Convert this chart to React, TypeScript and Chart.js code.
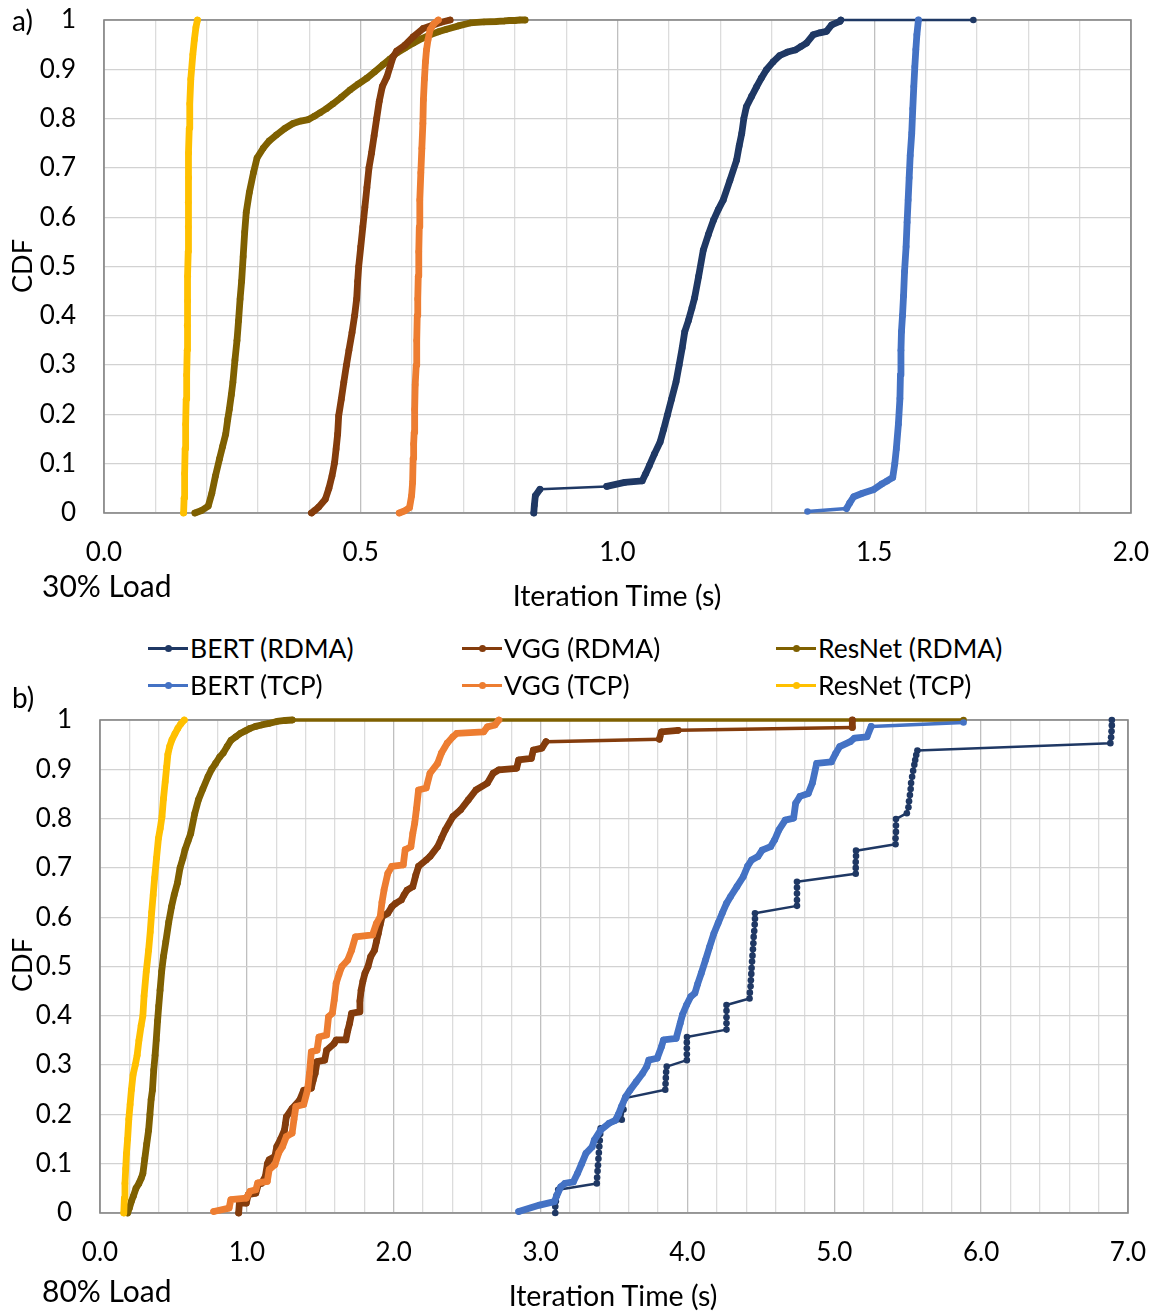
import React, { useEffect, useRef } from "react";
import { Chart, registerables } from "chart.js";

Chart.register(...registerables);

// ---------------- labels ----------------
const SERIES_NAMES = ["BERT (RDMA)", "VGG (RDMA)", "ResNet (RDMA)", "BERT (TCP)", "VGG (TCP)", "ResNet (TCP)"];
const X_TICKS_30 = ["0.0", "0.5", "1.0", "1.5", "2.0"];
const X_TICKS_80 = ["0.0", "1.0", "2.0", "3.0", "4.0", "5.0", "6.0", "7.0"];
const Y_TICKS = ["0", "0.1", "0.2", "0.3", "0.4", "0.5", "0.6", "0.7", "0.8", "0.9", "1"];

// ---------------- a) 30% load ----------------
const bertRdma30X = [0.837, 0.838, 0.840, 0.849, 0.979, 1.014, 1.048, 1.055, 1.062, 1.072, 1.083, 1.090, 1.097, 1.105, 1.114, 1.120, 1.126, 1.131, 1.138, 1.145, 1.150, 1.158, 1.167, 1.177, 1.187, 1.196, 1.206, 1.219, 1.232, 1.237, 1.242, 1.246, 1.251, 1.261, 1.271, 1.280, 1.290, 1.303, 1.316, 1.331, 1.346, 1.357, 1.368, 1.381, 1.394, 1.407, 1.417, 1.433, 1.435, 1.693];
const bertRdma30Y = [0, 0.015, 0.035, 0.048, 0.054, 0.062, 0.065, 0.080, 0.096, 0.120, 0.144, 0.170, 0.198, 0.230, 0.266, 0.300, 0.335, 0.368, 0.390, 0.416, 0.436, 0.480, 0.533, 0.565, 0.594, 0.615, 0.635, 0.675, 0.716, 0.745, 0.770, 0.800, 0.824, 0.845, 0.865, 0.882, 0.899, 0.915, 0.928, 0.935, 0.939, 0.946, 0.953, 0.970, 0.974, 0.977, 0.990, 0.997, 1.0, 1.0];

const vggRdma30X = [0.404, 0.410, 0.418, 0.431, 0.438, 0.444, 0.449, 0.452, 0.455, 0.457, 0.462, 0.467, 0.472, 0.477, 0.483, 0.488, 0.492, 0.494, 0.496, 0.500, 0.504, 0.508, 0.512, 0.516, 0.521, 0.526, 0.531, 0.536, 0.542, 0.551, 0.557, 0.563, 0.570, 0.586, 0.602, 0.622, 0.641, 0.655, 0.674];
const vggRdma30Y = [0, 0.005, 0.012, 0.028, 0.050, 0.075, 0.102, 0.130, 0.160, 0.197, 0.230, 0.265, 0.299, 0.330, 0.366, 0.400, 0.434, 0.470, 0.500, 0.540, 0.580, 0.620, 0.660, 0.700, 0.730, 0.765, 0.800, 0.835, 0.865, 0.885, 0.905, 0.925, 0.937, 0.949, 0.966, 0.983, 0.990, 0.995, 1.0];

const resnetRdma30X = [0.177, 0.190, 0.203, 0.210, 0.217, 0.225, 0.231, 0.237, 0.241, 0.244, 0.248, 0.251, 0.255, 0.259, 0.262, 0.265, 0.268, 0.271, 0.274, 0.277, 0.283, 0.291, 0.298, 0.310, 0.322, 0.336, 0.352, 0.368, 0.383, 0.398, 0.410, 0.421, 0.433, 0.446, 0.462, 0.479, 0.495, 0.512, 0.527, 0.543, 0.557, 0.570, 0.586, 0.602, 0.618, 0.635, 0.651, 0.667, 0.690, 0.713, 0.740, 0.765, 0.780, 0.790, 0.800, 0.810, 0.820];
const resnetRdma30Y = [0, 0.005, 0.014, 0.040, 0.075, 0.110, 0.135, 0.160, 0.190, 0.210, 0.240, 0.265, 0.310, 0.350, 0.390, 0.434, 0.470, 0.520, 0.570, 0.610, 0.650, 0.690, 0.720, 0.740, 0.755, 0.767, 0.780, 0.790, 0.795, 0.798, 0.805, 0.812, 0.820, 0.830, 0.843, 0.858, 0.870, 0.882, 0.895, 0.909, 0.921, 0.933, 0.943, 0.953, 0.962, 0.970, 0.976, 0.981, 0.988, 0.994, 0.996, 0.997, 0.998, 0.999, 0.999, 1.0, 1.0];

const bertTcp30X = [1.370, 1.446, 1.452, 1.460, 1.477, 1.498, 1.515, 1.525, 1.536, 1.540, 1.543, 1.547, 1.550, 1.551, 1.552, 1.553, 1.555, 1.557, 1.559, 1.562, 1.564, 1.566, 1.568, 1.570, 1.573, 1.575, 1.577, 1.579, 1.581, 1.583, 1.586];
const bertTcp30Y = [0.003, 0.009, 0.020, 0.033, 0.040, 0.047, 0.059, 0.065, 0.072, 0.100, 0.130, 0.180, 0.232, 0.280, 0.330, 0.368, 0.400, 0.440, 0.490, 0.540, 0.590, 0.635, 0.680, 0.725, 0.770, 0.820, 0.865, 0.905, 0.940, 0.970, 1.0];

const vggTcp30X = [0.575, 0.585, 0.595, 0.599, 0.601, 0.602, 0.603, 0.604, 0.605, 0.606, 0.608, 0.609, 0.610, 0.611, 0.612, 0.613, 0.614, 0.615, 0.617, 0.619, 0.621, 0.622, 0.624, 0.626, 0.628, 0.631, 0.635, 0.642, 0.651];
const vggTcp30Y = [0, 0.004, 0.011, 0.035, 0.062, 0.110, 0.140, 0.163, 0.210, 0.260, 0.299, 0.350, 0.400, 0.434, 0.480, 0.530, 0.580, 0.635, 0.690, 0.740, 0.790, 0.838, 0.880, 0.915, 0.939, 0.960, 0.980, 0.992, 1.0];

const resnetTcp30X = [0.155, 0.156, 0.157, 0.158, 0.159, 0.160, 0.161, 0.162, 0.162, 0.163, 0.163, 0.164, 0.164, 0.164, 0.165, 0.165, 0.166, 0.167, 0.169, 0.173, 0.176, 0.179, 0.182];
const resnetTcp30Y = [0, 0.03, 0.08, 0.13, 0.18, 0.23, 0.28, 0.33, 0.38, 0.43, 0.48, 0.53, 0.58, 0.63, 0.68, 0.73, 0.78, 0.83, 0.88, 0.93, 0.96, 0.985, 1.0];

// ---------------- b) 80% load ----------------
const bertRdma80X = [3.100, 3.100, 3.104, 3.110, 3.120, 3.383, 3.385, 3.388, 3.391, 3.394, 3.397, 3.400, 3.403, 3.406, 3.409, 3.553, 3.565, 3.576, 3.849, 3.851, 3.853, 3.855, 3.859, 3.996, 3.996, 3.996, 3.996, 3.997, 4.266, 4.266, 4.266, 4.266, 4.266, 4.423, 4.425, 4.430, 4.432, 4.435, 4.437, 4.440, 4.443, 4.446, 4.449, 4.451, 4.455, 4.458, 4.460, 4.460, 4.746, 4.746, 4.746, 4.746, 4.746, 5.146, 5.146, 5.146, 5.148, 5.148, 5.417, 5.417, 5.420, 5.420, 5.420, 5.494, 5.505, 5.509, 5.515, 5.520, 5.523, 5.530, 5.537, 5.545, 5.551, 5.558, 5.566, 6.880, 6.885, 6.888, 6.890, 6.890];
const bertRdma80Y = [0, 0.013, 0.024, 0.036, 0.047, 0.060, 0.072, 0.085, 0.097, 0.110, 0.122, 0.135, 0.147, 0.160, 0.172, 0.189, 0.210, 0.233, 0.250, 0.262, 0.274, 0.286, 0.297, 0.310, 0.322, 0.334, 0.346, 0.357, 0.372, 0.385, 0.397, 0.410, 0.422, 0.435, 0.447, 0.460, 0.472, 0.485, 0.497, 0.510, 0.522, 0.535, 0.547, 0.560, 0.572, 0.585, 0.597, 0.608, 0.623, 0.635, 0.648, 0.660, 0.672, 0.688, 0.700, 0.712, 0.724, 0.735, 0.748, 0.760, 0.773, 0.786, 0.799, 0.811, 0.823, 0.835, 0.848, 0.860, 0.872, 0.885, 0.897, 0.909, 0.919, 0.929, 0.938, 0.953, 0.965, 0.977, 0.989, 1.0];

const vggRdma80X = [0.944, 0.949, 0.996, 1.009, 1.061, 1.080, 1.100, 1.126, 1.140, 1.152, 1.191, 1.204, 1.230, 1.256, 1.262, 1.269, 1.308, 1.360, 1.387, 1.439, 1.452, 1.465, 1.478, 1.530, 1.543, 1.595, 1.608, 1.674, 1.687, 1.700, 1.713, 1.765, 1.770, 1.778, 1.790, 1.804, 1.825, 1.843, 1.869, 1.882, 1.895, 1.908, 1.921, 1.960, 1.987, 2.013, 2.052, 2.070, 2.091, 2.130, 2.150, 2.169, 2.221, 2.247, 2.299, 2.325, 2.351, 2.403, 2.456, 2.508, 2.560, 2.638, 2.677, 2.716, 2.837, 2.851, 2.937, 2.951, 3.009, 3.037, 3.809, 3.823, 3.937, 5.123, 5.123];
const vggRdma80Y = [0, 0.020, 0.020, 0.037, 0.040, 0.060, 0.060, 0.074, 0.100, 0.108, 0.115, 0.135, 0.150, 0.168, 0.180, 0.195, 0.212, 0.229, 0.249, 0.253, 0.270, 0.283, 0.307, 0.310, 0.330, 0.344, 0.351, 0.351, 0.370, 0.385, 0.405, 0.408, 0.430, 0.452, 0.470, 0.486, 0.500, 0.520, 0.533, 0.550, 0.567, 0.585, 0.601, 0.608, 0.621, 0.628, 0.635, 0.645, 0.655, 0.662, 0.685, 0.703, 0.716, 0.723, 0.743, 0.760, 0.777, 0.804, 0.818, 0.838, 0.858, 0.872, 0.892, 0.899, 0.902, 0.919, 0.922, 0.939, 0.943, 0.956, 0.961, 0.976, 0.979, 0.985, 1.0];

const resnetRdma80X = [0.188, 0.200, 0.215, 0.227, 0.245, 0.265, 0.280, 0.292, 0.305, 0.318, 0.331, 0.340, 0.348, 0.357, 0.366, 0.375, 0.383, 0.392, 0.400, 0.409, 0.420, 0.432, 0.448, 0.468, 0.487, 0.505, 0.527, 0.545, 0.565, 0.579, 0.600, 0.618, 0.645, 0.670, 0.700, 0.735, 0.760, 0.787, 0.815, 0.839, 0.865, 0.892, 0.925, 0.957, 0.990, 1.022, 1.060, 1.100, 1.150, 1.204, 1.260, 1.309, 5.880];
const resnetRdma80Y = [0, 0.010, 0.025, 0.034, 0.050, 0.060, 0.070, 0.080, 0.110, 0.140, 0.168, 0.200, 0.230, 0.249, 0.290, 0.320, 0.351, 0.390, 0.420, 0.452, 0.490, 0.520, 0.550, 0.590, 0.621, 0.645, 0.669, 0.700, 0.720, 0.737, 0.755, 0.770, 0.810, 0.838, 0.860, 0.885, 0.900, 0.912, 0.925, 0.933, 0.946, 0.959, 0.966, 0.973, 0.978, 0.983, 0.987, 0.990, 0.993, 0.997, 0.999, 1.0, 1.0];

const bertTcp80X = [2.851, 2.994, 3.094, 3.110, 3.137, 3.166, 3.223, 3.251, 3.280, 3.309, 3.351, 3.366, 3.409, 3.466, 3.509, 3.530, 3.551, 3.580, 3.609, 3.651, 3.694, 3.723, 3.737, 3.794, 3.823, 3.837, 3.923, 3.951, 3.966, 3.994, 4.023, 4.051, 4.070, 4.094, 4.123, 4.151, 4.180, 4.209, 4.237, 4.266, 4.294, 4.337, 4.380, 4.409, 4.437, 4.480, 4.509, 4.566, 4.594, 4.623, 4.666, 4.723, 4.737, 4.766, 4.823, 4.851, 4.880, 4.980, 5.009, 5.037, 5.109, 5.137, 5.223, 5.251, 5.880];
const bertTcp80Y = [0.003, 0.016, 0.023, 0.035, 0.053, 0.060, 0.063, 0.080, 0.100, 0.121, 0.134, 0.148, 0.168, 0.182, 0.188, 0.200, 0.216, 0.236, 0.249, 0.266, 0.283, 0.297, 0.310, 0.314, 0.337, 0.351, 0.354, 0.385, 0.402, 0.422, 0.439, 0.446, 0.465, 0.486, 0.513, 0.540, 0.567, 0.588, 0.608, 0.628, 0.642, 0.662, 0.682, 0.703, 0.716, 0.723, 0.736, 0.743, 0.757, 0.777, 0.797, 0.801, 0.831, 0.845, 0.851, 0.872, 0.912, 0.915, 0.932, 0.946, 0.956, 0.963, 0.966, 0.987, 0.995];

const vggTcp80X = [0.774, 0.879, 0.891, 0.996, 1.022, 1.061, 1.074, 1.139, 1.152, 1.191, 1.217, 1.243, 1.269, 1.308, 1.321, 1.334, 1.387, 1.413, 1.426, 1.439, 1.478, 1.491, 1.543, 1.556, 1.582, 1.595, 1.608, 1.628, 1.647, 1.687, 1.713, 1.739, 1.856, 1.882, 1.908, 1.920, 1.934, 1.960, 1.987, 2.065, 2.078, 2.117, 2.130, 2.143, 2.155, 2.169, 2.221, 2.247, 2.299, 2.325, 2.364, 2.403, 2.430, 2.612, 2.638, 2.690, 2.716];
const vggTcp80Y = [0.003, 0.010, 0.027, 0.030, 0.044, 0.047, 0.061, 0.064, 0.088, 0.098, 0.122, 0.135, 0.155, 0.162, 0.190, 0.216, 0.220, 0.249, 0.283, 0.327, 0.330, 0.357, 0.361, 0.398, 0.405, 0.432, 0.466, 0.485, 0.500, 0.513, 0.533, 0.560, 0.564, 0.587, 0.601, 0.630, 0.655, 0.689, 0.703, 0.706, 0.737, 0.743, 0.770, 0.791, 0.820, 0.858, 0.862, 0.892, 0.912, 0.933, 0.953, 0.966, 0.973, 0.976, 0.986, 0.990, 1.0];

const resnetTcp80X = [0.162, 0.166, 0.170, 0.175, 0.180, 0.188, 0.196, 0.205, 0.214, 0.225, 0.240, 0.253, 0.265, 0.280, 0.292, 0.300, 0.315, 0.331, 0.342, 0.352, 0.362, 0.372, 0.385, 0.398, 0.410, 0.422, 0.432, 0.444, 0.454, 0.462, 0.474, 0.490, 0.510, 0.530, 0.550, 0.574];
const resnetTcp80Y = [0, 0.03, 0.06, 0.09, 0.12, 0.15, 0.19, 0.22, 0.25, 0.28, 0.30, 0.32, 0.35, 0.38, 0.40, 0.44, 0.49, 0.533, 0.57, 0.61, 0.645, 0.68, 0.72, 0.76, 0.78, 0.804, 0.84, 0.875, 0.905, 0.93, 0.946, 0.96, 0.972, 0.983, 0.992, 1.0];

// ---------------- styling ----------------
const COLORS = ["#1F3864", "#843C0C", "#7F6000", "#4472C4", "#ED7D31", "#FFC000"];
const FONT = "Lato, 'Open Sans', sans-serif";

const framePlugin = {
  id: "frame",
  beforeDatasetsDraw(chart: any) {
    const { ctx, chartArea: a } = chart;
    ctx.save();
    ctx.strokeStyle = "#868686";
    ctx.lineWidth = 1.6;
    ctx.strokeRect(a.left, a.top, a.right - a.left, a.bottom - a.top);
    ctx.restore();
  },
};

function makeDataset(i: number, xs: number[], ys: number[], beads: boolean) {
  const thin = i === 0 ? 2.5 : 3.5;
  return {
    label: SERIES_NAMES[i],
    data: xs.map((x, k) => ({ x, y: ys[k] })),
    borderColor: COLORS[i],
    backgroundColor: COLORS[i],
    borderWidth: thin,
    borderCapStyle: "round",
    borderJoinStyle: "round",
    pointRadius: 3.3,
    pointHoverRadius: 3.3,
    pointBorderWidth: 0,
    tension: 0,
    clip: false,
    order: i >= 3 ? 0 : 1,
    segment: beads
      ? undefined
      : {
          borderWidth: (c: any) =>
            Math.hypot(c.p1.x - c.p0.x, c.p1.y - c.p0.y) < 30 ? 6.8 : thin,
        },
  };
}

function zeroPadding(s: any) {
  s.paddingTop = 0;
  s.paddingBottom = 0;
  s.paddingLeft = 0;
  s.paddingRight = 0;
}

function makeOptions(xMax: number, xStep: number, xLabels: string[], yWidth: number, xHeight: number, padRight: number) {
  return {
    responsive: false,
    animation: false,
    events: [],
    layout: { padding: { left: 0, right: padRight, top: 20, bottom: 0 } },
    plugins: { legend: { display: false }, tooltip: { enabled: false } },
    scales: {
      x: {
        type: "linear",
        min: 0,
        max: xMax,
        border: { display: false },
        grid: {
          drawTicks: false,
          lineWidth: 1.3,
          color: (ctx: any) => (ctx.index % 5 === 0 ? "#BFBFBF" : "#DCDCDC"),
        },
        ticks: {
          stepSize: xStep,
          maxTicksLimit: 100,
          autoSkip: false,
          maxRotation: 0,
          minRotation: 0,
          padding: 24,
          color: "#000",
          font: { family: FONT, size: 26 },
          callback: (_v: any, idx: number) => (idx % 5 === 0 ? xLabels[idx / 5] : ""),
        },
        afterFit: (s: any) => {
          s.height = xHeight;
          zeroPadding(s);
        },
      },
      y: {
        type: "linear",
        min: 0,
        max: 1,
        border: { display: false },
        grid: { drawTicks: false, lineWidth: 1.3, color: "#D2D2D2" },
        ticks: {
          stepSize: 0.1,
          maxTicksLimit: 100,
          autoSkip: false,
          padding: 28,
          color: "#000",
          font: { family: FONT, size: 26 },
          callback: (_v: any, idx: number) => Y_TICKS[idx],
        },
        afterFit: (s: any) => {
          s.width = yWidth;
          zeroPadding(s);
        },
      },
    },
  };
}

function CdfChart(props: { datasets: any[]; options: any; width: number; height: number; top: number }) {
  const ref = useRef<HTMLCanvasElement | null>(null);
  useEffect(() => {
    if (!ref.current) return;
    const chart = new Chart(ref.current, {
      type: "line",
      data: { datasets: props.datasets },
      options: props.options,
      plugins: [framePlugin],
    } as any);
    return () => chart.destroy();
  }, []);
  return (
    <canvas
      ref={ref}
      width={props.width}
      height={props.height}
      style={{ position: "absolute", left: 0, top: props.top, width: props.width, height: props.height }}
    />
  );
}

function Label(props: { x: number; y: number; size: number; align?: "left" | "center"; rotate?: boolean; children: any }) {
  const tx = props.align === "left" ? "0" : "-50%";
  return (
    <div
      style={{
        position: "absolute",
        left: props.x,
        top: props.y,
        transform: `translate(${tx}, -50%)${props.rotate ? " rotate(-90deg)" : ""}`,
        fontFamily: FONT,
        fontSize: props.size,
        lineHeight: "34px",
        whiteSpace: "nowrap",
        color: "#000",
      }}
    >
      {props.children}
    </div>
  );
}

function LegendItem(props: { x: number; y: number; i: number }) {
  const c = COLORS[props.i];
  return (
    <div style={{ position: "absolute", left: props.x, top: props.y - 15, height: 30, display: "flex", alignItems: "center" }}>
      <div style={{ position: "relative", width: 40, height: 30 }}>
        <div style={{ position: "absolute", left: 0, top: 13.5, width: 40, height: 3, background: c }} />
        <div style={{ position: "absolute", left: 16.5, top: 11.5, width: 7, height: 7, borderRadius: 4, background: c }} />
      </div>
      <span style={{ marginLeft: 2, fontFamily: FONT, fontSize: 26.5, lineHeight: "30px", whiteSpace: "nowrap", color: "#000" }}>
        {SERIES_NAMES[props.i]}
      </span>
    </div>
  );
}

export default function App() {
  const ds30 = [
    makeDataset(0, bertRdma30X, bertRdma30Y, false),
    makeDataset(1, vggRdma30X, vggRdma30Y, false),
    makeDataset(2, resnetRdma30X, resnetRdma30Y, false),
    makeDataset(3, bertTcp30X, bertTcp30Y, false),
    makeDataset(4, vggTcp30X, vggTcp30Y, false),
    makeDataset(5, resnetTcp30X, resnetTcp30Y, false),
  ];
  const ds80 = [
    makeDataset(0, bertRdma80X, bertRdma80Y, true),
    makeDataset(1, vggRdma80X, vggRdma80Y, false),
    makeDataset(2, resnetRdma80X, resnetRdma80Y, false),
    makeDataset(3, bertTcp80X, bertTcp80Y, false),
    makeDataset(4, vggTcp80X, vggTcp80Y, false),
    makeDataset(5, resnetTcp80X, resnetTcp80Y, false),
  ];
  const opt30 = makeOptions(2, 0.1, X_TICKS_30, 104, 87, 26);
  const opt80 = makeOptions(7, 0.2, X_TICKS_80, 100, 99, 29);
  const legendCols = [148, 462, 776];

  return (
    <div style={{ position: "absolute", left: 0, top: 0, width: 1157, height: 1312, background: "#fff", overflow: "hidden" }}>
      <CdfChart datasets={ds30} options={opt30} width={1157} height={600} top={0} />
      <CdfChart datasets={ds80} options={opt80} width={1157} height={612} top={700} />

      <Label x={12} y={20} size={28} align="left">a)</Label>
      <Label x={22} y={266} size={27} rotate>CDF</Label>
      <Label x={42} y={585} size={30} align="left">30% Load</Label>
      <Label x={617} y={595} size={28.5}>Iteration Time (s)</Label>

      {[0, 1, 2].map((c) => (
        <LegendItem key={"r1" + c} x={legendCols[c]} y={648} i={c} />
      ))}
      {[0, 1, 2].map((c) => (
        <LegendItem key={"r2" + c} x={legendCols[c]} y={685} i={c + 3} />
      ))}

      <Label x={12} y={697} size={28} align="left">b)</Label>
      <Label x={22} y={965} size={27} rotate>CDF</Label>
      <Label x={42} y={1290} size={30} align="left">80% Load</Label>
      <Label x={613} y={1295} size={28.5}>Iteration Time (s)</Label>
    </div>
  );
}
